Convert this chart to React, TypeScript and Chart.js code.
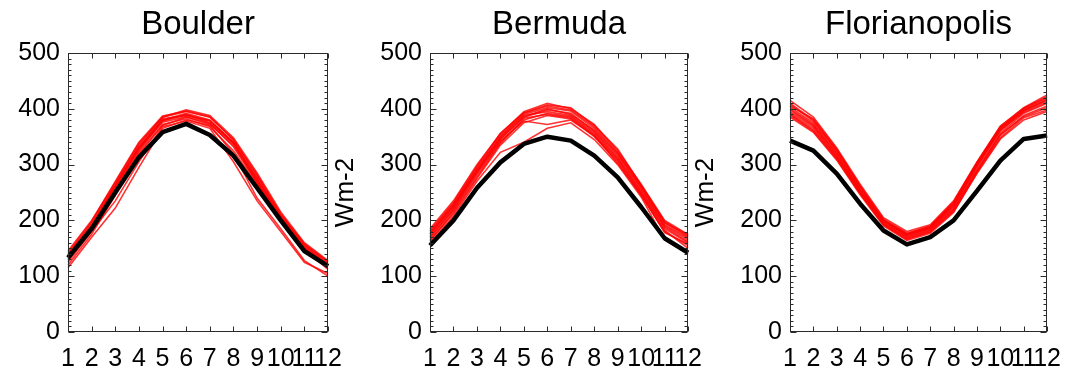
import React, { useEffect, useRef } from "react";
import { Chart, registerables } from "chart.js";

Chart.register(...registerables);

const FONT = "'Liberation Sans', Arial, Helvetica, sans-serif";

// x categories (months) and y tick values
const months = ["1", "2", "3", "4", "5", "6", "7", "8", "9", "10", "11", "12"];
const yMin = 0;
const yMax = 500;
const yStep = 100;
const yUnit = "Wm-2";

// Boulder
const boulderObs = [133, 185, 250, 313, 358, 373, 353, 316, 258, 200, 145, 118];
const boulderModels = [
  [140, 195, 265, 335, 385, 395, 385, 345, 280, 210, 158, 125],
  [135, 190, 260, 330, 380, 392, 380, 340, 275, 205, 152, 120],
  [128, 185, 255, 325, 378, 390, 375, 338, 270, 205, 150, 118],
  [145, 200, 268, 338, 385, 398, 388, 348, 285, 215, 160, 128],
  [120, 175, 245, 318, 370, 385, 372, 335, 268, 200, 148, 112],
  [132, 188, 252, 322, 372, 382, 368, 325, 265, 200, 150, 120],
  [138, 192, 262, 332, 382, 388, 378, 340, 272, 208, 155, 122],
  [115, 170, 222, 295, 365, 380, 370, 320, 240, 185, 128, 100],
  [125, 180, 235, 305, 368, 378, 365, 305, 235, 180, 125, 105],
  [142, 198, 270, 340, 387, 396, 386, 344, 282, 212, 157, 126],
  [130, 186, 258, 328, 376, 386, 374, 332, 268, 202, 148, 116],
  [136, 190, 263, 330, 379, 389, 379, 338, 276, 207, 154, 121],
];

// Bermuda
const bermudaObs = [155, 200, 258, 304, 337, 350, 343, 316, 277, 224, 168, 142];
const bermudaModels = [
  [185, 235, 300, 355, 395, 410, 400, 372, 325, 265, 200, 175],
  [178, 228, 292, 350, 390, 402, 396, 365, 320, 260, 195, 170],
  [172, 222, 288, 345, 385, 398, 392, 360, 315, 255, 190, 165],
  [168, 218, 282, 340, 380, 392, 386, 355, 310, 250, 185, 160],
  [165, 212, 275, 335, 375, 388, 382, 350, 305, 245, 180, 155],
  [175, 225, 290, 348, 388, 395, 388, 358, 312, 252, 188, 162],
  [160, 208, 270, 322, 340, 365, 375, 345, 300, 242, 165, 140],
  [180, 230, 295, 352, 392, 405, 398, 368, 322, 262, 198, 172],
  [170, 220, 285, 342, 378, 372, 380, 352, 308, 248, 182, 150],
  [163, 215, 278, 338, 383, 390, 384, 353, 302, 246, 178, 158],
  [176, 226, 287, 346, 386, 400, 390, 362, 318, 258, 192, 168],
  [182, 232, 297, 356, 393, 407, 402, 370, 328, 263, 196, 174],
];

// Florianopolis
const florianopolisObs = [343, 325, 284, 230, 182, 157, 170, 200, 253, 307, 346, 352];
const florianopolisModels = [
  [415, 385, 330, 265, 205, 180, 192, 235, 305, 368, 402, 425],
  [408, 378, 325, 260, 200, 175, 188, 230, 300, 365, 400, 420],
  [400, 372, 320, 255, 197, 172, 185, 225, 297, 360, 396, 415],
  [395, 368, 315, 252, 195, 170, 183, 222, 293, 356, 392, 410],
  [390, 362, 312, 250, 193, 167, 180, 218, 290, 352, 388, 405],
  [385, 358, 308, 246, 190, 164, 177, 214, 286, 348, 384, 398],
  [410, 380, 326, 262, 202, 177, 190, 232, 303, 366, 398, 418],
  [398, 370, 318, 254, 198, 173, 186, 226, 298, 362, 394, 412],
  [392, 365, 314, 249, 194, 169, 182, 220, 288, 354, 386, 402],
  [403, 375, 322, 257, 199, 174, 187, 228, 301, 363, 397, 416],
  [388, 360, 310, 248, 192, 166, 179, 216, 284, 346, 380, 395],
  [405, 382, 328, 261, 201, 176, 189, 233, 304, 369, 401, 422],
];

const framePlugin = {
  id: "idlFrame",
  afterDatasetsDraw(chart: any) {
    const { ctx, chartArea, scales } = chart;
    const { left, right, top, bottom } = chartArea;
    const x = scales.x;
    const y = scales.y;
    ctx.save();
    ctx.strokeStyle = "#2a2a2a";
    ctx.lineWidth = 1;
    const L = Math.round(left) + 0.5;
    const R = Math.round(right) - 0.5;
    const T = Math.round(top) + 0.5;
    const B = Math.round(bottom) - 0.5;
    ctx.strokeRect(L, T, R - L, B - T);
    ctx.beginPath();
    for (let i = 0; i < months.length; i++) {
      const px = Math.round(x.getPixelForValue(i)) + 0.5;
      ctx.moveTo(px, B);
      ctx.lineTo(px, B - 5);
      ctx.moveTo(px, T);
      ctx.lineTo(px, T + 5);
    }
    for (let v = yMin; v <= yMax; v += 10) {
      const py = Math.round(y.getPixelForValue(v)) + 0.5;
      const len = v % yStep === 0 ? 6 : 3;
      ctx.moveTo(L, py);
      ctx.lineTo(L + len, py);
      ctx.moveTo(R, py);
      ctx.lineTo(R - len, py);
    }
    ctx.stroke();
    ctx.restore();
  },
};

type PanelProps = {
  title: string;
  obs: number[];
  models: number[][];
  left: number;
  width: number;
  axisWidth: number;
  rightPad: number;
  showYTitle: boolean;
};

function Panel({ title, obs, models, left, width, axisWidth, rightPad, showYTitle }: PanelProps) {
  const ref = useRef<HTMLCanvasElement>(null);
  useEffect(() => {
    if (!ref.current) return;
    const datasets: any[] = [
      {
        data: obs,
        borderColor: "#000000",
        borderWidth: 4.5,
        pointRadius: 0,
        tension: 0,
        order: 0,
        borderJoinStyle: "round",
      },
      ...models.map((m) => ({
        data: m,
        borderColor: "rgba(255,0,0,0.8)",
        borderWidth: 1.6,
        pointRadius: 0,
        tension: 0,
        order: 1,
      })),
    ];
    const chart = new Chart(ref.current, {
      type: "line",
      data: { labels: months, datasets },
      options: {
        animation: false,
        responsive: false,
        devicePixelRatio: 1,
        layout: { padding: { top: 0, right: rightPad, bottom: 0, left: 0 } },
        plugins: {
          legend: { display: false },
          tooltip: { enabled: false },
          title: {
            display: true,
            text: title,
            fullSize: false,
            color: "#000",
            font: { family: FONT, size: 33, weight: "normal" },
            padding: { top: 5.5, bottom: 7.9 },
          },
        },
        scales: {
          x: {
            type: "category",
            offset: false,
            grid: { display: false, drawTicks: false },
            border: { display: false },
            ticks: {
              autoSkip: false,
              maxRotation: 0,
              minRotation: 0,
              padding: 12,
              color: "#000",
              font: { family: FONT, size: 25 },
            },
            afterFit: (s: any) => {
              s.height = 42;
            },
          },
          y: {
            min: yMin,
            max: yMax,
            grid: { display: false, drawTicks: false },
            border: { display: false },
            ticks: {
              stepSize: yStep,
              padding: 8,
              color: "#000",
              font: { family: FONT, size: 25 },
            },
            title: {
              display: showYTitle,
              text: yUnit,
              color: "#000",
              font: { family: FONT, size: 26 },
              padding: { top: 0, bottom: 0 },
            },
            afterFit: (s: any) => {
              s.width = axisWidth;
            },
          },
        },
      } as any,
      plugins: [framePlugin],
    });
    return () => chart.destroy();
  }, []);
  return (
    <canvas
      ref={ref}
      width={width}
      height={374}
      style={{ position: "absolute", left, top: 0, width, height: 374 }}
    />
  );
}

export default function App() {
  return (
    <div style={{ position: "absolute", left: 0, top: 0, width: 1073, height: 374, background: "#fff", overflow: "hidden" }}>
      <Panel title="Boulder" obs={boulderObs} models={boulderModels} left={0} width={360} axisWidth={68} rightPad={32} showYTitle={false} />
      <Panel title="Bermuda" obs={bermudaObs} models={bermudaModels} left={330} width={384} axisWidth={100} rightPad={24} showYTitle={true} />
      <Panel title="Florianopolis" obs={florianopolisObs} models={florianopolisModels} left={690} width={383} axisWidth={100} rightPad={23} showYTitle={true} />
    </div>
  );
}
